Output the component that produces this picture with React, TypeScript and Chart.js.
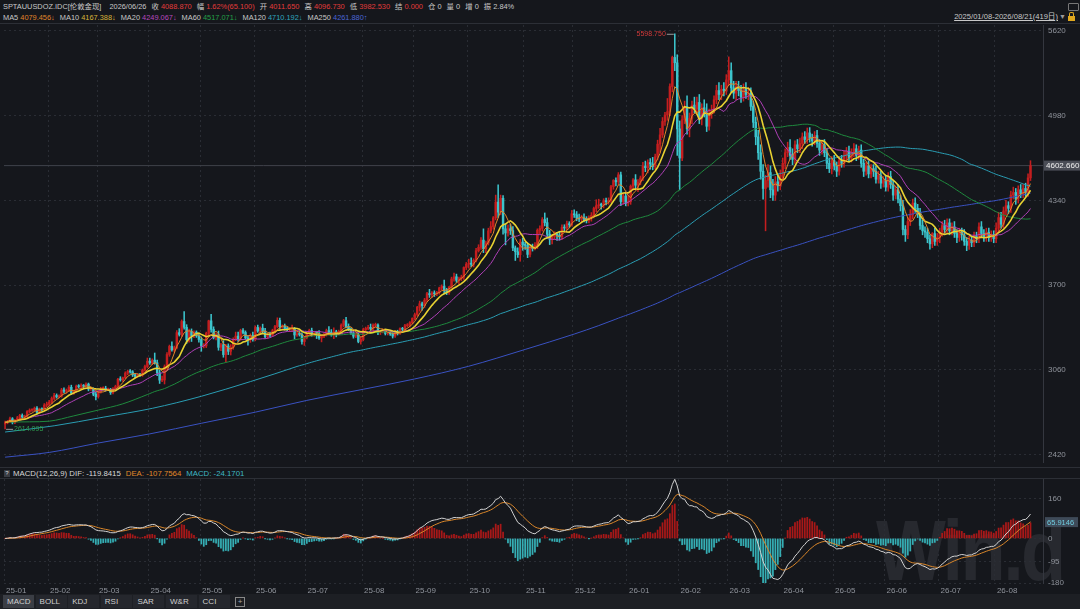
import React, { useEffect, useRef } from 'react';
import { Chart, registerables } from 'chart.js';

Chart.register(...registerables);

// ---------- DATA ----------
// each day: [close, upper wick above body, lower wick below body]; open = previous close
type Day = [number, number, number];

const firstOpen = 2650.095;

const d2501: Day[] = [[2662,10,36],[2670,8,10],[2690,12,9],[2663,9,12],[2677,8,10],[2697,11,7],[2715,9,10],[2703,12,8],[2708,10,9],[2745,7,12],[2755,10,8],[2755,11,10],[2770,9,8],[2740,12,14],[2763,8,9],[2760,10,12],[2794,11,8],[2798,19,12]];
const d2502: Day[] = [[2815,14,10],[2843,12,9],[2866,16,11],[2856,12,10],[2861,10,9],[2908,12,8],[2898,15,12],[2905,10,14],[2928,12,9],[2883,16,10],[2898,9,8],[2935,10,9],[2933,13,10],[2939,16,12],[2936,10,11],[2952,10,9],[2915,8,14],[2915,12,10],[2876,10,12],[2858,14,25]];
const d2503: Day[] = [[2893,10,12],[2918,10,9],[2920,12,10],[2910,16,12],[2910,12,8],[2888,10,14],[2917,9,10],[2934,10,8],[2988,8,11],[2984,20,10],[3000,6,12],[3035,10,8],[3048,10,12],[3044,14,10],[3022,10,13],[3011,12,10],[3021,9,8],[3020,12,10],[3058,8,9],[3085,10,8],[3124,25,10]];
const d2504: Day[] = [[3113,25,12],[3133,10,12],[3113,54,10],[3037,20,22],[2982,20,25],[2983,30,12],[3083,14,30],[3176,15,20],[3237,10,14],[3211,35,10],[3228,12,18],[3341,15,10],[3327,30,12],[3425,12,14],[3381,75,13],[3288,20,28],[3349,18,20],[3319,20,45],[3344,10,16],[3317,10,12],[3289,12,20]];
const d2505: Day[] = [[3240,20,40],[3240,18,14],[3335,10,12],[3430,5,20],[3365,50,20],[3305,20,12],[3325,12,20],[3230,28,22],[3250,10,25],[3175,30,20],[3240,12,55],[3200,16,25],[3230,20,28],[3290,12,15],[3315,30,10],[3295,30,20],[3357,10,12],[3342,15,10],[3300,12,10],[3287,18,40],[3318,14,20],[3289,28,12]];
const d2506: Day[] = [[3380,12,10],[3353,18,10],[3375,10,15],[3352,30,12],[3310,22,12],[3325,10,15],[3322,20,12],[3355,12,10],[3387,10,15],[3433,20,10],[3385,18,20],[3388,12,12],[3370,18,10],[3368,15,12],[3368,10,20],[3368,30,20],[3323,12,30],[3332,12,10],[3327,18,12],[3274,12,20],[3303,10,30]];
const d2507: Day[] = [[3338,12,10],[3357,10,12],[3326,18,12],[3337,10,12],[3336,12,40],[3301,20,12],[3313,10,30],[3325,12,10],[3356,12,10],[3344,30,10],[3324,20,10],[3347,30,28],[3339,12,30],[3350,10,12],[3397,10,10],[3431,10,12],[3387,25,10],[3368,20,12],[3337,10,10],[3314,12,15],[3326,10,12],[3274,10,10],[3289,20,20]];
const d2508: Day[] = [[3363,12,10],[3373,10,15],[3381,15,10],[3369,25,12],[3396,12,20],[3398,15,12],[3341,10,15],[3348,10,15],[3356,12,10],[3335,10,12],[3336,10,12],[3332,14,12],[3315,10,15],[3347,10,10],[3339,12,16],[3371,7,12],[3366,10,15],[3393,10,12],[3397,12,10],[3416,8,12],[3448,5,10]];
const d2509: Day[] = [[3477,12,10],[3533,7,12],[3559,20,30],[3545,12,35],[3587,13,14],[3636,10,12],[3627,32,20],[3641,10,20],[3634,16,20],[3643,10,14],[3679,6,12],[3690,12,15],[3660,47,25],[3644,16,16],[3685,6,15],[3746,14,8],[3763,28,16],[3736,20,15],[3749,12,28],[3760,15,15],[3833,5,18],[3858,13,16]];
const d2510: Day[] = [[3866,30,30],[3857,40,18],[3887,12,20],[3960,18,12],[3985,20,10],[4040,19,15],[3975,85,30],[4018,15,30],[4110,20,15],[4142,37,15],[4208,10,20],[4327,53,15],[4251,130,40],[4356,24,20],[4125,20,40],[4094,35,90],[4126,30,25],[4112,35,30],[3981,30,20],[3952,15,66],[3930,30,20],[4025,20,50],[4003,30,40]];
const d2511: Day[] = [[4000,20,30],[3932,20,25],[3980,15,20],[3977,30,20],[4001,20,12],[4115,10,25],[4128,20,30],[4195,15,20],[4172,50,25],[4084,35,30],[4046,30,40],[4067,15,35],[4078,25,20],[4077,20,40],[4065,30,25],[4136,20,20],[4131,20,25],[4164,20,15],[4156,15,20],[4239,25,10]];
const d2512: Day[] = [[4231,30,20],[4206,25,20],[4199,30,20],[4208,20,25],[4197,30,20],[4189,20,20],[4208,15,20],[4228,20,25],[4279,10,20],[4300,45,25],[4304,45,20],[4303,15,30],[4338,15,20],[4330,20,25],[4339,20,20],[4444,10,15],[4491,6,20],[4480,20,30],[4533,17,20],[4331,20,31],[4373,20,20],[4319,30,20]];
const d2601: Day[] = [[4330,50,20],[4447,10,20],[4495,10,30],[4455,40,30],[4478,20,50],[4509,15,20],[4597,30,20],[4587,40,30],[4626,20,40],[4615,30,40],[4596,50,25],[4670,20,20],[4765,30,25],[4835,50,60],[4936,30,20],[4985,20,30],[5010,100,40],[5200,20,30],[5420,10,40],[5380,178.75,60],[4880,60,200]];
const d2602: Day[] = [[4660,60,240],[4950,30,20],[5050,40,30],[4880,80,40],[4960,40,60],[5060,30,40],[5030,60,30],[5080,40,40],[4960,60,40],[5040,30,50],[5000,60,30],[4900,70,40],[5000,30,30],[5020,40,40],[5100,30,20],[5170,40,30],[5140,60,40],[5180,30,40],[5170,50,40],[5250,40,30]];
const d2603: Day[] = [[5320,104,40],[5190,60,30],[5150,50,40],[5200,40,50],[5170,40,40],[5120,40,40],[5180,40,30],[5140,50,30],[5150,40,40],[5050,40,30],[4930,40,40],[4820,40,60],[4700,50,50],[4560,60,60],[4430,50,80],[4490,40,320],[4550,60,50],[4420,50,60],[4380,80,40],[4480,40,40],[4450,60,40],[4530,40,30]];
const d2604: Day[] = [[4620,40,30],[4700,30,40],[4740,40,30],[4680,60,30],[4650,50,40],[4760,30,30],[4730,40,30],[4770,40,30],[4820,30,40],[4800,40,30],[4850,37,30],[4810,40,30],[4790,30,40],[4830,30,30],[4770,40,30],[4720,30,40],[4760,30,30],[4700,40,30],[4620,30,40],[4580,40,30],[4640,30,40]];
const d2605: Day[] = [[4600,40,30],[4560,30,40],[4640,30,30],[4620,40,30],[4680,30,30],[4710,30,40],[4660,40,30],[4700,30,30],[4730,40,30],[4680,30,40],[4720,30,30],[4620,40,30],[4560,30,40],[4600,30,30],[4540,40,30],[4580,30,30],[4560,30,40],[4500,40,30],[4530,30,30],[4470,30,40],[4490,30,30]];
const d2606: Day[] = [[4440,40,30],[4520,30,30],[4460,40,30],[4380,30,40],[4420,30,30],[4350,40,30],[4300,30,40],[4120,40,40],[4080,30,50],[4180,30,30],[4230,40,30],[4320,30,30],[4280,40,30],[4250,30,40],[4150,30,30],[4110,40,30],[4100,30,40],[4050,30,30],[4011.65,30,40],[4088.87,7.86,29.12],[4030,40,30],[4060,30,30]];
const d2607: Day[] = [[4100,30,40],[4150,30,30],[4120,40,30],[4170,30,30],[4110,30,30],[4140,30,30],[4090,40,30],[4060,30,40],[4100,30,30],[4080,30,40],[4030,40,30],[4000,30,40],[4040,30,30],[4020,30,30],[4070,30,30],[4050,30,30],[4140,30,30],[4090,40,30],[4060,30,30],[4100,30,30],[4060,30,30],[4080,30,30],[4050,30,30]];
const d2608: Day[] = [[4130,40,30],[4210,40,30],[4160,40,30],[4260,30,30],[4300,40,30],[4280,30,40],[4380,30,30],[4400,40,30],[4350,30,40],[4420,30,30],[4390,40,30],[4430,30,30],[4400,40,30],[4510,30,30],[4602.66,37,20]];

const monthData: Day[][] = [d2501, d2502, d2503, d2504, d2505, d2506, d2507, d2508, d2509, d2510, d2511, d2512, d2601, d2602, d2603, d2604, d2605, d2606, d2607, d2608];
const monthLabels = ['25-01', '25-02', '25-03', '25-04', '25-05', '25-06', '25-07', '25-08', '25-09', '25-10', '25-11', '25-12', '26-01', '26-02', '26-03', '26-04', '26-05', '26-06', '26-07', '26-08'];

// long averages before enough days exist in the window: [day index, value]
const ma60Seed: [number, number][] = [[0, 2665], [10, 2667], [18, 2672], [28, 2712], [38, 2756], [48, 2803], [58, 2873]];
const ma120Seed: [number, number][] = [[0, 2590], [20, 2637], [40, 2702], [60, 2769], [80, 2860], [100, 2971], [110, 3030]];
const ma250Seed: [number, number][] = [[0, 2400], [18, 2436], [38, 2507], [59, 2576], [80, 2656], [102, 2740], [123, 2829], [146, 2913], [167, 2991], [189, 3087], [212, 3214], [232, 3330], [242, 3394]];

const priceTicks = [2420, 3060, 3700, 4340, 4980, 5620];
const macdTicks = [-180, -95, 0, 160];
const lastMacdLabel = 65.9146;

const quoteItems: [string, string, boolean][] = [
  ['收', '4088.870', true], ['幅', '1.62%(65.100)', true], ['开', '4011.650', true], ['高', '4096.730', true],
  ['低', '3982.530', true], ['结', '0.000', true], ['仓', '0', false], ['量', '0', false], ['增', '0', false], ['振', '2.84%', false],
];
const maLegend: [string, string, string][] = [
  ['MA5', '4079.456↓', '#e0862a'], ['MA10', '4167.388↓', '#d9b53a'], ['MA20', '4249.067↓', '#b648be'],
  ['MA60', '4517.071↓', '#24a048'], ['MA120', '4710.192↓', '#2fa6bd'], ['MA250', '4261.880↑', '#4a64d4'],
];
const tabs = ['MACD', 'BOLL', 'KDJ', 'RSI', 'SAR', 'W&R', 'CCI'];

// ---------- derived ----------
const days = monthData.flat();
const closes = days.map((d) => d[0]);
const opens = closes.map((c, i) => (i === 0 ? firstOpen : closes[i - 1]));
const highs = days.map((d, i) => Math.max(opens[i], d[0]) + d[1]);
const lows = days.map((d, i) => Math.min(opens[i], d[0]) - d[2]);
const monthStarts: number[] = [];
{
  let acc = 0;
  monthData.forEach((m) => { monthStarts.push(acc); acc += m.length; });
}
const N = closes.length;
const xMin = -0.44;
const xMax = 423.1;

function sma(n: number, seed?: [number, number][]) {
  const pts: { x: number; y: number }[] = [];
  if (seed) seed.forEach(([x, y]) => pts.push({ x, y }));
  let sum = 0;
  for (let i = 0; i < N; i++) {
    sum += closes[i];
    if (i >= n) sum -= closes[i - n];
    if (i >= n - 1) pts.push({ x: i, y: sum / n });
    else if (!seed) pts.push({ x: i, y: sum / (i + 1) });
  }
  return pts;
}
function ema(src: number[], n: number) {
  const k = 2 / (n + 1);
  const out: number[] = [];
  src.forEach((v, i) => out.push(i === 0 ? v : out[i - 1] + k * (v - out[i - 1])));
  return out;
}
const e12 = ema(closes, 12);
const e26 = ema(closes, 26);
const dif = e12.map((v, i) => v - e26[i]);
const dea = ema(dif, 9);
const hist = dif.map((v, i) => 2 * (v - dea[i]));

let hiIdx = 0, loIdx = 0;
highs.forEach((h, i) => { if (h > highs[hiIdx]) hiIdx = i; });
lows.forEach((l, i) => { if (l < lows[loIdx]) loIdx = i; });
const lastClose = closes[N - 1];

const UP = '#c41e1f';
const DOWN = '#3cc4cc';
const GRID = '#2a2d34';
const AXIS_TXT = '#8f939b';
const FONT = '"Liberation Sans", "Noto Sans CJK SC", Arial, sans-serif';

Chart.defaults.font.family = FONT;
Chart.defaults.font.size = 8;

const monthTickVals = monthStarts.slice(1).map((s) => s - 0.5);

function lineDs(data: any[], color: string, width = 1, smooth = false) {
  return {
    type: 'line', data, borderColor: color, borderWidth: width, pointRadius: 0, order: 1,
    tension: 0, cubicInterpolationMode: smooth ? 'monotone' : 'default', fill: false,
  };
}

const noPad = (s: any) => { s.width = 37; s.paddingTop = 0; s.paddingBottom = 0; };

function mainConfig(): any {
  const markers = {
    id: 'markers',
    afterDatasetsDraw(chart: any) {
      const { ctx, scales } = chart;
      const x = scales.x, y = scales.y;
      ctx.save();
      ctx.font = `7px ${FONT}`;
      ctx.textBaseline = 'middle';
      const hx = x.getPixelForValue(hiIdx), hy = y.getPixelForValue(highs[hiIdx]);
      ctx.strokeStyle = '#9a9a9a'; ctx.lineWidth = 1;
      ctx.beginPath(); ctx.moveTo(hx - 1, hy + 0.5); ctx.lineTo(hx - 8, hy + 0.5); ctx.stroke();
      ctx.fillStyle = '#d23a3a'; ctx.textAlign = 'right';
      ctx.fillText(highs[hiIdx].toFixed(3), hx - 9, hy + 0.5);
      const lx = x.getPixelForValue(loIdx), ly = y.getPixelForValue(lows[loIdx]);
      ctx.strokeStyle = '#9a9a9a';
      ctx.beginPath(); ctx.moveTo(lx + 1, ly + 0.5); ctx.lineTo(lx + 8, ly + 0.5); ctx.stroke();
      ctx.fillStyle = '#2f9e4f'; ctx.textAlign = 'left';
      ctx.fillText(lows[loIdx].toFixed(3), lx + 9, ly + 0.5);
      ctx.restore();
    },
    afterDraw(chart: any) {
      const { ctx, scales } = chart;
      const py = scales.y.getPixelForValue(lastClose);
      const left = scales.y.left + 1;
      ctx.save();
      ctx.fillStyle = '#4a4d56';
      ctx.fillRect(left, py - 5, 36, 10);
      ctx.fillStyle = '#f0f0f0';
      ctx.font = `8px ${FONT}`;
      ctx.textBaseline = 'middle';
      ctx.textAlign = 'left';
      ctx.fillText(lastClose.toFixed(3), left + 2, py + 0.5);
      ctx.restore();
    },
  };
  return {
    type: 'bar',
    data: {
      datasets: [
        lineDs(sma(5), '#e0862a', 1),
        lineDs(sma(10), '#e8d232', 1.6),
        lineDs(sma(20), '#b040b8', 1),
        lineDs(sma(60, ma60Seed), '#1f8a3e', 1, true),
        lineDs(sma(120, ma120Seed), '#2a9db3', 1, true),
        lineDs(sma(250, ma250Seed), '#3a52c2', 1, true),
        { ...lineDs([{ x: xMin, y: lastClose }, { x: xMax, y: lastClose }], '#3f424a', 1), order: 9 },
        {
          type: 'bar', order: 3, grouped: false, barThickness: 1.8, minBarLength: 1,
          data: closes.map((c, i) => ({ x: i, y: [opens[i], c] })),
          backgroundColor: closes.map((c, i) => (c >= opens[i] ? UP : DOWN)),
        },
        {
          type: 'bar', order: 4, grouped: false, barThickness: 0.9,
          data: closes.map((c, i) => ({ x: i, y: [lows[i], highs[i]] })),
          backgroundColor: closes.map((c, i) => (c >= opens[i] ? UP : DOWN)),
        },
      ],
    },
    options: {
      animation: false, responsive: false, events: [],
      layout: { padding: { left: 4, right: 0, top: 0, bottom: 0 } },
      plugins: { legend: { display: false }, tooltip: { enabled: false } },
      scales: {
        x: {
          type: 'linear', min: xMin, max: xMax, offset: false,
          afterBuildTicks: (s: any) => { s.ticks = monthTickVals.map((v) => ({ value: v })); },
          afterFit: (s: any) => { s.height = 0; s.paddingLeft = 0; s.paddingRight = 0; },
          ticks: { display: false },
          grid: { color: GRID, drawTicks: false, offset: false },
          border: { display: false, dash: [2, 3] },
        },
        y: {
          position: 'right', min: 2356, max: 5665,
          afterBuildTicks: (s: any) => { s.ticks = priceTicks.map((v) => ({ value: v })); },
          afterFit: noPad,
          ticks: { color: AXIS_TXT, padding: 5, font: { size: 8 }, callback: (v: any) => String(v) },
          grid: { color: GRID, drawTicks: false },
          border: { display: true, color: '#34373f', dash: [2, 3] },
        },
      },
    },
    plugins: [markers],
  };
}

function macdConfig(): any {
  const box = {
    id: 'macdbox',
    afterDraw(chart: any) {
      const { ctx, scales } = chart;
      const py = scales.y.getPixelForValue(lastMacdLabel);
      const left = scales.y.left + 2;
      ctx.save();
      ctx.fillStyle = '#3e4a58';
      ctx.fillRect(left, py - 5, 33, 10);
      ctx.fillStyle = '#6fcde0';
      ctx.font = `7.5px ${FONT}`;
      ctx.textBaseline = 'middle';
      ctx.textAlign = 'left';
      ctx.fillText(String(lastMacdLabel), left + 2, py + 0.5);
      ctx.restore();
    },
  };
  const labelTicks = [xMin, ...monthTickVals];
  return {
    type: 'bar',
    data: {
      datasets: [
        lineDs(dif.map((v, i) => ({ x: i, y: v })), '#d2d2d2', 1),
        lineDs(dea.map((v, i) => ({ x: i, y: v })), '#d9862a', 1),
        {
          type: 'bar', order: 3, grouped: false, barThickness: 1.1,
          data: hist.map((v, i) => ({ x: i, y: v })),
          backgroundColor: hist.map((v) => (v >= 0 ? '#a81818' : '#35aeb4')),
        },
      ],
    },
    options: {
      animation: false, responsive: false, events: [],
      layout: { padding: { left: 4, right: 0, top: 0, bottom: 0 } },
      plugins: { legend: { display: false }, tooltip: { enabled: false } },
      scales: {
        x: {
          type: 'linear', min: xMin, max: xMax, offset: false,
          afterBuildTicks: (s: any) => { s.ticks = labelTicks.map((v) => ({ value: v })); },
          afterFit: (s: any) => { s.height = 13; s.paddingLeft = 0; s.paddingRight = 0; },
          ticks: {
            color: AXIS_TXT, align: 'start', maxRotation: 0, autoSkip: false, padding: 3, labelOffset: 2,
            font: { size: 8 }, callback: (_v: any, i: number) => monthLabels[i],
          },
          grid: { color: GRID, drawTicks: false, offset: false },
          border: { display: false, dash: [2, 3] },
        },
        y: {
          position: 'right', min: -180, max: 240,
          afterBuildTicks: (s: any) => { s.ticks = macdTicks.map((v) => ({ value: v })); },
          afterFit: noPad,
          ticks: { color: AXIS_TXT, padding: 5, font: { size: 8 }, callback: (v: any) => String(v) },
          grid: { color: GRID, drawTicks: false },
          border: { display: true, color: '#34373f', dash: [2, 3] },
        },
      },
    },
    plugins: [box],
  };
}

function ChartCanvas(props: { make: () => any; top: number; height: number }) {
  const ref = useRef<HTMLCanvasElement>(null);
  useEffect(() => {
    const c = new Chart(ref.current as HTMLCanvasElement, props.make());
    return () => c.destroy();
  }, []);
  return (
    <canvas
      ref={ref}
      width={1080}
      height={props.height}
      style={{ position: 'absolute', left: 0, top: props.top, width: 1080, height: props.height }}
    />
  );
}

const txt: React.CSSProperties = { position: 'absolute', whiteSpace: 'nowrap', fontSize: 7.4, lineHeight: '10px' };

export default function App() {
  return (
    <div style={{ position: 'fixed', left: 0, top: 0, width: 1080, height: 609, background: '#15171c', overflow: 'hidden', fontFamily: FONT, color: '#c8c8c8' }}>
      {/* header row 1 */}
      <div style={{ ...txt, left: 3, top: 2 }}>
        <span>SPTAUUSDOZ.IDC[伦敦金现]</span>
        <span style={{ marginLeft: 8 }}>2026/06/26</span>
        {quoteItems.map(([k, v, red]) => (
          <span key={k} style={{ marginLeft: 5 }}>
            {k} <span style={{ color: red ? '#e23b3b' : '#c8c8c8' }}>{v}</span>
          </span>
        ))}
      </div>
      {/* header row 2 */}
      <div style={{ ...txt, left: 3, top: 13 }}>
        {maLegend.map(([k, v, c], i) => (
          <span key={k} style={{ marginLeft: i === 0 ? 0 : 5 }}>
            {k} <span style={{ color: c }}>{v}</span>
          </span>
        ))}
      </div>
      <div style={{ ...txt, fontSize: 7.6, right: 22, top: 12, textDecoration: 'underline', color: '#c8c8c8' }}>2025/01/08-2026/08/21(419日)</div>
      <div style={{ ...txt, left: 1059, top: 12, color: '#9a9a9a', fontSize: 7 }}>▼</div>
      <div style={{ position: 'absolute', left: 1068, top: 16, width: 7, height: 5, background: '#e0a81e' }} />
      <div style={{ position: 'absolute', left: 1069, top: 12, width: 3, height: 4, border: '1px solid #e0a81e', borderBottom: 'none', borderRadius: '2px 2px 0 0' }} />
      <div style={{ position: 'absolute', left: 1068, top: 3, width: 9, height: 6, border: '1px solid #777', borderRadius: 1 }} />
      <div style={{ position: 'absolute', left: 0, top: 23, width: 1080, height: 1, background: '#2c2f36' }} />

      <ChartCanvas make={mainConfig} top={25} height={438} />

      <div style={{ position: 'absolute', left: 0, top: 467, width: 1080, height: 1, background: '#2c2f36' }} />
      <div style={{ position: 'absolute', left: 4, top: 470, width: 6, height: 7, background: '#3a3d44', color: '#ddd', fontSize: 6, lineHeight: '7px', textAlign: 'center' }}>?</div>
      <div style={{ ...txt, fontSize: 7.8, left: 13, top: 469 }}>
        <span style={{ color: '#d8d8d8' }}>MACD(12,26,9) DIF: -119.8415</span>
        <span style={{ color: '#e08a2a', marginLeft: 5 }}>DEA: -107.7564</span>
        <span style={{ color: '#3fb8c4', marginLeft: 5 }}>MACD: -24.1701</span>
      </div>
      <div style={{ position: 'absolute', left: 0, top: 478, width: 1080, height: 1, background: '#2c2f36' }} />

      <div style={{ position: 'absolute', left: 876, top: 507, fontSize: 86, fontWeight: 'bold', color: '#27292f', fontFamily: '"Liberation Sans", Arial, sans-serif', letterSpacing: -3, lineHeight: '86px', transform: 'scaleX(0.86)', transformOrigin: 'left top' }}>Win.d</div>

      <ChartCanvas make={macdConfig} top={479} height={117} />

      <div style={{ position: 'absolute', left: 0, top: 594, width: 1080, height: 15, background: '#1d1f24' }} />
      {tabs.map((t, i) => (
        <div key={t} style={{ ...txt, fontSize: 8, left: 3 + i * 32.6, top: 595, width: 31, height: 13, lineHeight: '13px', background: i === 0 ? '#3b3e45' : '#25272d', color: '#cfcfcf', paddingLeft: 4, boxSizing: 'border-box' }}>{t}</div>
      ))}
      <div style={{ position: 'absolute', left: 235, top: 597, width: 8, height: 8, border: '1px solid #888', color: '#aaa', fontSize: 8, lineHeight: '8px', textAlign: 'center' }}>+</div>
    </div>
  );
}
